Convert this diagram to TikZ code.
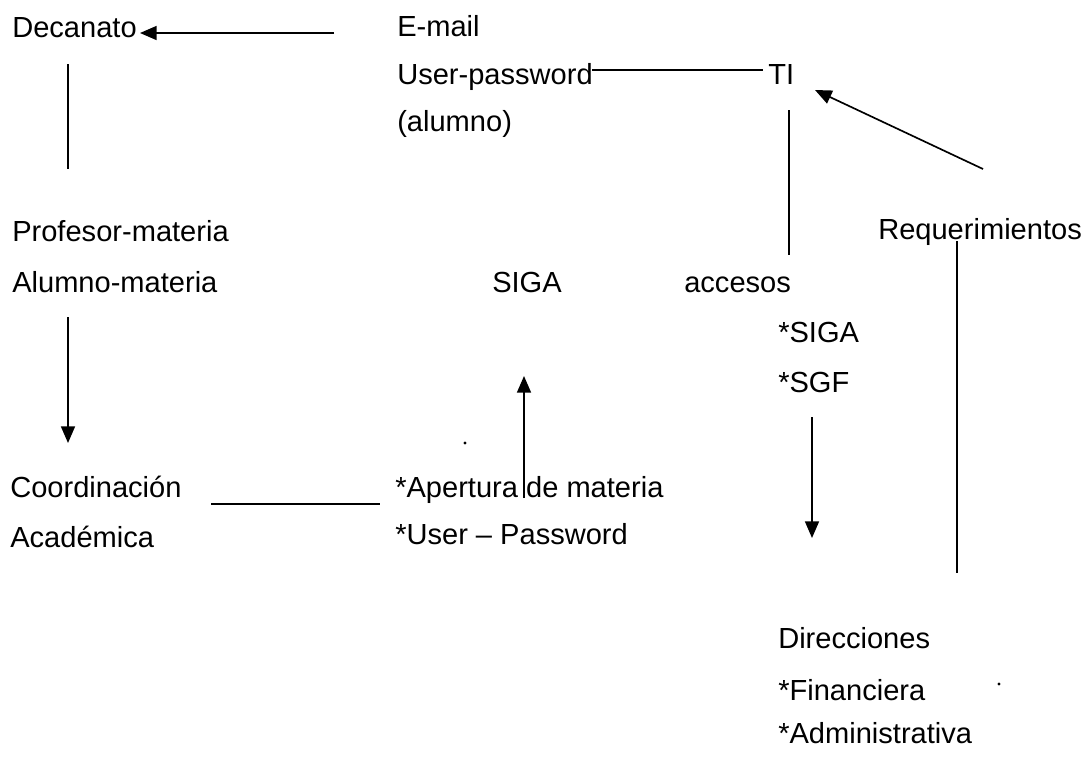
\documentclass[tikz,border=0pt]{standalone}
\usepackage{fontspec}
\setmainfont{Liberation Sans}
\usetikzlibrary{arrows.meta}
\begin{document}
\begin{tikzpicture}[x=0.75pt,y=-0.75pt,
  lbl/.style={anchor=base west,inner sep=0pt,font=\fontsize{21.8}{25}\selectfont},
  conn/.style={line width=1.25pt,draw=black},
  arr/.style={conn,-{Triangle[length=12.5pt,width=10.5pt]}},
  speck/.style={fill=black,draw=none}]
\useasboundingbox[fill=white] (0,0) rectangle (1085,758);

% text nodes
\node[lbl] (dec)    at (12,37)  {Decanato};
\node[lbl] (email)  at (397,36) {E-mail};
\node[lbl] (userpw) at (397,84) {User-password};
\node[lbl] (alumno) at (397,131) {(alumno)};
\node[lbl] (ti)     at (768,84) {TI};
\node[lbl] (prof)   at (12,241) {Profesor-materia};
\node[lbl] (alum)   at (12,292) {Alumno-materia};
\node[lbl] (siga)   at (492,292) {SIGA};
\node[lbl] (acc)    at (684,292) {accesos};
\node[lbl] (req)    at (878,239) {Requerimientos};
\node[lbl] (ssiga)  at (778,342) {*SIGA};
\node[lbl] (ssgf)   at (778,392) {*SGF};
\node[lbl] (coord)  at (10,497) {Coordinación};
\node[lbl] (acad)   at (10,547) {Académica};
\node[lbl] (apert)  at (395,497) {*Apertura de materia};
\node[lbl] (userp)  at (395,544) {*User – Password};
\node[lbl] (dir)    at (778,648) {Direcciones};
\node[lbl] (fin)    at (778,700) {*Financiera};
\node[lbl] (adm)    at (778,743) {*Administrativa};

% connector end points
\coordinate (decA)  at (334,33);
\coordinate (decB)  at (140,33);
\coordinate (decV1) at (68,64);
\coordinate (decV2) at (68,169);
\coordinate (upwA)  at (592,70);
\coordinate (upwB)  at (763,70);
\coordinate (reqA)  at (983,169);
\coordinate (reqB)  at (815,90);
\coordinate (tiA)   at (789,110);
\coordinate (tiB)   at (789,255);
\coordinate (reqV1) at (957,241);
\coordinate (reqV2) at (957,573);
\coordinate (alA)   at (68,317);
\coordinate (alB)   at (68,443);
\coordinate (sgA)   at (524,498);
\coordinate (sgB)   at (524,376);
\coordinate (coA)   at (211,504);
\coordinate (coB)   at (380,504);
\coordinate (sfA)   at (812,417);
\coordinate (sfB)   at (812,538);

% connectors
\draw[arr]  (decA) -- (decB);
\draw[conn] (decV1) -- (decV2);
\draw[conn] (upwA) -- (upwB);
\draw[arr]  (reqA) -- (reqB);
\draw[conn] (tiA) -- (tiB);
\draw[conn] (reqV1) -- (reqV2);
\draw[arr]  (alA) -- (alB);
\draw[arr]  (sgA) -- (sgB);
\draw[conn] (coA) -- (coB);
\draw[arr]  (sfA) -- (sfB);

% scan specks
\fill[speck] (465,443) circle (1.6);
\fill[speck] (999,684) circle (1.6);
\end{tikzpicture}
\end{document}
